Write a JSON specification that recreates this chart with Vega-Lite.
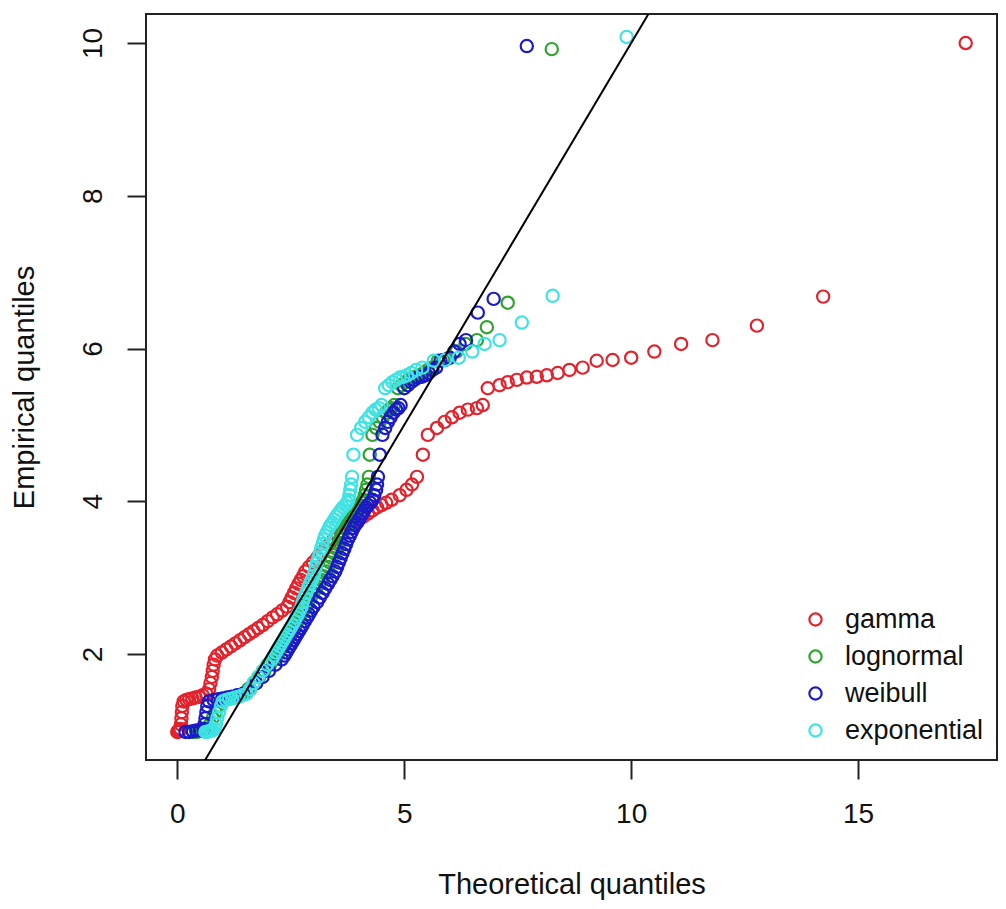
{
"$schema":"https://vega.github.io/schema/vega-lite/v6.json",
"width":851,"height":746,"autosize":"none",
"padding":{"left":146,"top":14,"right":9,"bottom":149},
"background":"white",
"config":{"font":"Liberation Sans","view":{"stroke":"#222","strokeWidth":2}},
"datasets":{
"ref":[{"x":-1,"y":-1},{"x":12,"y":12}],
"pts":[
{"d":"gamma","x":0.00,"y":0.98},{"d":"gamma","x":0.01,"y":0.98},{"d":"gamma","x":0.02,"y":0.99},{"d":"gamma","x":0.03,"y":1.00},{"d":"gamma","x":0.05,"y":1.00},{"d":"gamma","x":0.07,"y":1.02},
{"d":"gamma","x":0.08,"y":1.08},{"d":"gamma","x":0.09,"y":1.16},{"d":"gamma","x":0.10,"y":1.24},{"d":"gamma","x":0.11,"y":1.32},
{"d":"gamma","x":0.14,"y":1.38},{"d":"gamma","x":0.20,"y":1.40},{"d":"gamma","x":0.26,"y":1.41},{"d":"gamma","x":0.33,"y":1.42},{"d":"gamma","x":0.40,"y":1.43},{"d":"gamma","x":0.48,"y":1.44},{"d":"gamma","x":0.56,"y":1.46},{"d":"gamma","x":0.64,"y":1.48},
{"d":"gamma","x":0.70,"y":1.54},{"d":"gamma","x":0.73,"y":1.62},{"d":"gamma","x":0.76,"y":1.70},{"d":"gamma","x":0.78,"y":1.78},{"d":"gamma","x":0.80,"y":1.86},{"d":"gamma","x":0.83,"y":1.93},
{"d":"gamma","x":0.88,"y":1.98},{"d":"gamma","x":0.98,"y":2.02},{"d":"gamma","x":1.08,"y":2.06},{"d":"gamma","x":1.18,"y":2.10},{"d":"gamma","x":1.28,"y":2.14},{"d":"gamma","x":1.38,"y":2.18},{"d":"gamma","x":1.48,"y":2.22},{"d":"gamma","x":1.58,"y":2.26},{"d":"gamma","x":1.68,"y":2.30},{"d":"gamma","x":1.78,"y":2.34},{"d":"gamma","x":1.88,"y":2.38},{"d":"gamma","x":1.99,"y":2.43},{"d":"gamma","x":2.10,"y":2.48},{"d":"gamma","x":2.20,"y":2.52},{"d":"gamma","x":2.31,"y":2.57},{"d":"gamma","x":2.42,"y":2.62},
{"d":"gamma","x":2.47,"y":2.68},{"d":"gamma","x":2.52,"y":2.74},{"d":"gamma","x":2.57,"y":2.80},{"d":"gamma","x":2.62,"y":2.86},{"d":"gamma","x":2.67,"y":2.92},{"d":"gamma","x":2.72,"y":2.97},{"d":"gamma","x":2.77,"y":3.02},{"d":"gamma","x":2.82,"y":3.08},
{"d":"gamma","x":2.90,"y":3.14},{"d":"gamma","x":2.99,"y":3.20},{"d":"gamma","x":3.08,"y":3.26},{"d":"gamma","x":3.17,"y":3.32},{"d":"gamma","x":3.26,"y":3.38},{"d":"gamma","x":3.35,"y":3.44},{"d":"gamma","x":3.44,"y":3.50},{"d":"gamma","x":3.53,"y":3.55},{"d":"gamma","x":3.62,"y":3.60},{"d":"gamma","x":3.71,"y":3.65},
{"d":"gamma","x":3.80,"y":3.69},{"d":"gamma","x":3.90,"y":3.72},{"d":"gamma","x":4.00,"y":3.76},{"d":"gamma","x":4.10,"y":3.80},{"d":"gamma","x":4.20,"y":3.84},{"d":"gamma","x":4.30,"y":3.88},{"d":"gamma","x":4.40,"y":3.92},{"d":"gamma","x":4.50,"y":3.95},{"d":"gamma","x":4.60,"y":3.98},{"d":"gamma","x":4.72,"y":4.02},
{"d":"gamma","x":4.90,"y":4.08},{"d":"gamma","x":5.05,"y":4.15},{"d":"gamma","x":5.17,"y":4.22},{"d":"gamma","x":5.28,"y":4.32},
{"d":"gamma","x":5.41,"y":4.61},{"d":"gamma","x":5.52,"y":4.87},{"d":"gamma","x":5.72,"y":4.96},{"d":"gamma","x":5.89,"y":5.04},{"d":"gamma","x":6.05,"y":5.10},{"d":"gamma","x":6.22,"y":5.16},{"d":"gamma","x":6.40,"y":5.20},{"d":"gamma","x":6.60,"y":5.22},{"d":"gamma","x":6.73,"y":5.26},
{"d":"gamma","x":6.84,"y":5.48},{"d":"gamma","x":7.10,"y":5.52},{"d":"gamma","x":7.28,"y":5.56},{"d":"gamma","x":7.48,"y":5.59},{"d":"gamma","x":7.70,"y":5.62},{"d":"gamma","x":7.92,"y":5.63},{"d":"gamma","x":8.14,"y":5.65},{"d":"gamma","x":8.38,"y":5.68},{"d":"gamma","x":8.64,"y":5.72},{"d":"gamma","x":8.93,"y":5.75},
{"d":"gamma","x":9.24,"y":5.84},{"d":"gamma","x":9.59,"y":5.85},{"d":"gamma","x":10.00,"y":5.88},{"d":"gamma","x":10.51,"y":5.96},{"d":"gamma","x":11.10,"y":6.06},{"d":"gamma","x":11.79,"y":6.11},
{"d":"gamma","x":12.77,"y":6.30},{"d":"gamma","x":14.23,"y":6.68},{"d":"gamma","x":17.37,"y":10.0},

{"d":"lognormal","x":0.35,"y":0.98},{"d":"lognormal","x":0.42,"y":0.98},{"d":"lognormal","x":0.48,"y":0.99},{"d":"lognormal","x":0.54,"y":1.00},{"d":"lognormal","x":0.60,"y":1.00},{"d":"lognormal","x":0.66,"y":1.02},
{"d":"lognormal","x":0.72,"y":1.08},{"d":"lognormal","x":0.78,"y":1.16},{"d":"lognormal","x":0.84,"y":1.24},{"d":"lognormal","x":0.90,"y":1.32},
{"d":"lognormal","x":0.95,"y":1.38},{"d":"lognormal","x":1.02,"y":1.40},{"d":"lognormal","x":1.09,"y":1.41},{"d":"lognormal","x":1.16,"y":1.42},{"d":"lognormal","x":1.23,"y":1.43},{"d":"lognormal","x":1.30,"y":1.44},{"d":"lognormal","x":1.38,"y":1.46},{"d":"lognormal","x":1.46,"y":1.48},
{"d":"lognormal","x":1.56,"y":1.54},{"d":"lognormal","x":1.68,"y":1.62},{"d":"lognormal","x":1.80,"y":1.70},{"d":"lognormal","x":1.92,"y":1.78},{"d":"lognormal","x":2.04,"y":1.86},{"d":"lognormal","x":2.14,"y":1.93},
{"d":"lognormal","x":2.20,"y":1.98},{"d":"lognormal","x":2.24,"y":2.02},{"d":"lognormal","x":2.28,"y":2.06},{"d":"lognormal","x":2.32,"y":2.10},{"d":"lognormal","x":2.36,"y":2.14},{"d":"lognormal","x":2.40,"y":2.18},{"d":"lognormal","x":2.44,"y":2.22},{"d":"lognormal","x":2.48,"y":2.26},{"d":"lognormal","x":2.52,"y":2.30},{"d":"lognormal","x":2.56,"y":2.34},{"d":"lognormal","x":2.60,"y":2.38},{"d":"lognormal","x":2.65,"y":2.43},{"d":"lognormal","x":2.70,"y":2.48},{"d":"lognormal","x":2.74,"y":2.52},{"d":"lognormal","x":2.79,"y":2.57},{"d":"lognormal","x":2.84,"y":2.62},
{"d":"lognormal","x":2.88,"y":2.68},{"d":"lognormal","x":2.94,"y":2.74},{"d":"lognormal","x":3.00,"y":2.80},{"d":"lognormal","x":3.06,"y":2.86},{"d":"lognormal","x":3.12,"y":2.92},{"d":"lognormal","x":3.17,"y":2.97},{"d":"lognormal","x":3.22,"y":3.02},{"d":"lognormal","x":3.28,"y":3.08},
{"d":"lognormal","x":3.32,"y":3.14},{"d":"lognormal","x":3.36,"y":3.20},{"d":"lognormal","x":3.40,"y":3.26},{"d":"lognormal","x":3.45,"y":3.32},{"d":"lognormal","x":3.50,"y":3.38},{"d":"lognormal","x":3.54,"y":3.44},{"d":"lognormal","x":3.58,"y":3.50},{"d":"lognormal","x":3.62,"y":3.55},{"d":"lognormal","x":3.66,"y":3.60},{"d":"lognormal","x":3.70,"y":3.65},
{"d":"lognormal","x":3.74,"y":3.69},{"d":"lognormal","x":3.78,"y":3.72},{"d":"lognormal","x":3.82,"y":3.76},{"d":"lognormal","x":3.86,"y":3.80},{"d":"lognormal","x":3.90,"y":3.84},{"d":"lognormal","x":3.94,"y":3.88},{"d":"lognormal","x":3.98,"y":3.92},{"d":"lognormal","x":4.02,"y":3.95},{"d":"lognormal","x":4.06,"y":3.98},{"d":"lognormal","x":4.10,"y":4.02},
{"d":"lognormal","x":4.13,"y":4.08},{"d":"lognormal","x":4.16,"y":4.15},{"d":"lognormal","x":4.19,"y":4.22},{"d":"lognormal","x":4.22,"y":4.32},
{"d":"lognormal","x":4.24,"y":4.61},{"d":"lognormal","x":4.30,"y":4.87},{"d":"lognormal","x":4.38,"y":4.96},{"d":"lognormal","x":4.46,"y":5.04},{"d":"lognormal","x":4.53,"y":5.10},{"d":"lognormal","x":4.60,"y":5.16},{"d":"lognormal","x":4.66,"y":5.20},{"d":"lognormal","x":4.72,"y":5.22},{"d":"lognormal","x":4.78,"y":5.26},
{"d":"lognormal","x":4.86,"y":5.48},{"d":"lognormal","x":4.94,"y":5.52},{"d":"lognormal","x":5.02,"y":5.56},{"d":"lognormal","x":5.10,"y":5.59},{"d":"lognormal","x":5.18,"y":5.62},{"d":"lognormal","x":5.26,"y":5.63},{"d":"lognormal","x":5.34,"y":5.65},{"d":"lognormal","x":5.42,"y":5.68},{"d":"lognormal","x":5.52,"y":5.72},{"d":"lognormal","x":5.62,"y":5.75},
{"d":"lognormal","x":5.74,"y":5.84},{"d":"lognormal","x":5.86,"y":5.85},{"d":"lognormal","x":6.00,"y":5.88},{"d":"lognormal","x":6.15,"y":5.96},{"d":"lognormal","x":6.35,"y":6.06},{"d":"lognormal","x":6.60,"y":6.11},
{"d":"lognormal","x":6.82,"y":6.28},{"d":"lognormal","x":7.28,"y":6.60},{"d":"lognormal","x":8.25,"y":9.92},

{"d":"weibull","x":0.18,"y":0.98},{"d":"weibull","x":0.26,"y":0.98},{"d":"weibull","x":0.34,"y":0.99},{"d":"weibull","x":0.42,"y":1.00},{"d":"weibull","x":0.50,"y":1.00},{"d":"weibull","x":0.58,"y":1.02},
{"d":"weibull","x":0.60,"y":1.08},{"d":"weibull","x":0.62,"y":1.16},{"d":"weibull","x":0.64,"y":1.24},{"d":"weibull","x":0.66,"y":1.32},
{"d":"weibull","x":0.70,"y":1.38},{"d":"weibull","x":0.80,"y":1.40},{"d":"weibull","x":0.90,"y":1.41},{"d":"weibull","x":1.00,"y":1.42},{"d":"weibull","x":1.10,"y":1.43},{"d":"weibull","x":1.20,"y":1.44},{"d":"weibull","x":1.32,"y":1.46},{"d":"weibull","x":1.45,"y":1.48},
{"d":"weibull","x":1.60,"y":1.54},{"d":"weibull","x":1.74,"y":1.62},{"d":"weibull","x":1.88,"y":1.70},{"d":"weibull","x":2.02,"y":1.78},{"d":"weibull","x":2.16,"y":1.86},{"d":"weibull","x":2.30,"y":1.93},
{"d":"weibull","x":2.36,"y":1.98},{"d":"weibull","x":2.40,"y":2.02},{"d":"weibull","x":2.44,"y":2.06},{"d":"weibull","x":2.48,"y":2.10},{"d":"weibull","x":2.52,"y":2.14},{"d":"weibull","x":2.56,"y":2.18},{"d":"weibull","x":2.60,"y":2.22},{"d":"weibull","x":2.64,"y":2.26},{"d":"weibull","x":2.68,"y":2.30},{"d":"weibull","x":2.72,"y":2.34},{"d":"weibull","x":2.76,"y":2.38},{"d":"weibull","x":2.81,"y":2.43},{"d":"weibull","x":2.86,"y":2.48},{"d":"weibull","x":2.90,"y":2.52},{"d":"weibull","x":2.95,"y":2.57},{"d":"weibull","x":3.00,"y":2.62},
{"d":"weibull","x":3.08,"y":2.68},{"d":"weibull","x":3.14,"y":2.74},{"d":"weibull","x":3.20,"y":2.80},{"d":"weibull","x":3.26,"y":2.86},{"d":"weibull","x":3.32,"y":2.92},{"d":"weibull","x":3.37,"y":2.97},{"d":"weibull","x":3.42,"y":3.02},{"d":"weibull","x":3.48,"y":3.08},
{"d":"weibull","x":3.52,"y":3.14},{"d":"weibull","x":3.56,"y":3.20},{"d":"weibull","x":3.60,"y":3.26},{"d":"weibull","x":3.64,"y":3.32},{"d":"weibull","x":3.68,"y":3.38},{"d":"weibull","x":3.72,"y":3.44},{"d":"weibull","x":3.76,"y":3.50},{"d":"weibull","x":3.80,"y":3.55},{"d":"weibull","x":3.84,"y":3.60},{"d":"weibull","x":3.88,"y":3.65},
{"d":"weibull","x":3.92,"y":3.69},{"d":"weibull","x":3.96,"y":3.72},{"d":"weibull","x":4.00,"y":3.76},{"d":"weibull","x":4.04,"y":3.80},{"d":"weibull","x":4.08,"y":3.84},{"d":"weibull","x":4.12,"y":3.88},{"d":"weibull","x":4.16,"y":3.92},{"d":"weibull","x":4.20,"y":3.95},{"d":"weibull","x":4.25,"y":3.98},{"d":"weibull","x":4.30,"y":4.02},
{"d":"weibull","x":4.34,"y":4.08},{"d":"weibull","x":4.38,"y":4.15},{"d":"weibull","x":4.40,"y":4.22},{"d":"weibull","x":4.42,"y":4.32},
{"d":"weibull","x":4.46,"y":4.61},{"d":"weibull","x":4.52,"y":4.87},{"d":"weibull","x":4.58,"y":4.96},{"d":"weibull","x":4.64,"y":5.04},{"d":"weibull","x":4.70,"y":5.10},{"d":"weibull","x":4.76,"y":5.16},{"d":"weibull","x":4.82,"y":5.20},{"d":"weibull","x":4.87,"y":5.22},{"d":"weibull","x":4.92,"y":5.26},
{"d":"weibull","x":5.00,"y":5.48},{"d":"weibull","x":5.08,"y":5.52},{"d":"weibull","x":5.15,"y":5.56},{"d":"weibull","x":5.22,"y":5.59},{"d":"weibull","x":5.30,"y":5.62},{"d":"weibull","x":5.38,"y":5.63},{"d":"weibull","x":5.46,"y":5.65},{"d":"weibull","x":5.54,"y":5.68},{"d":"weibull","x":5.62,"y":5.72},{"d":"weibull","x":5.70,"y":5.75},
{"d":"weibull","x":5.80,"y":5.84},{"d":"weibull","x":5.90,"y":5.85},{"d":"weibull","x":6.00,"y":5.88},{"d":"weibull","x":6.10,"y":5.96},{"d":"weibull","x":6.22,"y":6.06},{"d":"weibull","x":6.36,"y":6.11},
{"d":"weibull","x":6.62,"y":6.47},{"d":"weibull","x":6.97,"y":6.65},{"d":"weibull","x":7.70,"y":9.96},

{"d":"exponential","x":0.62,"y":0.98},{"d":"exponential","x":0.66,"y":0.98},{"d":"exponential","x":0.70,"y":0.99},{"d":"exponential","x":0.74,"y":1.00},{"d":"exponential","x":0.78,"y":1.00},{"d":"exponential","x":0.82,"y":1.02},
{"d":"exponential","x":0.85,"y":1.08},{"d":"exponential","x":0.88,"y":1.16},{"d":"exponential","x":0.92,"y":1.24},{"d":"exponential","x":0.96,"y":1.32},
{"d":"exponential","x":1.00,"y":1.38},{"d":"exponential","x":1.07,"y":1.40},{"d":"exponential","x":1.14,"y":1.41},{"d":"exponential","x":1.21,"y":1.42},{"d":"exponential","x":1.28,"y":1.43},{"d":"exponential","x":1.35,"y":1.44},{"d":"exponential","x":1.43,"y":1.46},{"d":"exponential","x":1.52,"y":1.48},
{"d":"exponential","x":1.60,"y":1.54},{"d":"exponential","x":1.68,"y":1.62},{"d":"exponential","x":1.78,"y":1.70},{"d":"exponential","x":1.88,"y":1.78},{"d":"exponential","x":1.98,"y":1.86},{"d":"exponential","x":2.08,"y":1.93},
{"d":"exponential","x":2.13,"y":1.98},{"d":"exponential","x":2.17,"y":2.02},{"d":"exponential","x":2.21,"y":2.06},{"d":"exponential","x":2.25,"y":2.10},{"d":"exponential","x":2.29,"y":2.14},{"d":"exponential","x":2.33,"y":2.18},{"d":"exponential","x":2.37,"y":2.22},{"d":"exponential","x":2.41,"y":2.26},{"d":"exponential","x":2.45,"y":2.30},{"d":"exponential","x":2.49,"y":2.34},{"d":"exponential","x":2.53,"y":2.38},{"d":"exponential","x":2.58,"y":2.43},{"d":"exponential","x":2.62,"y":2.48},{"d":"exponential","x":2.66,"y":2.52},{"d":"exponential","x":2.70,"y":2.57},{"d":"exponential","x":2.74,"y":2.62},
{"d":"exponential","x":2.76,"y":2.68},{"d":"exponential","x":2.80,"y":2.74},{"d":"exponential","x":2.84,"y":2.80},{"d":"exponential","x":2.88,"y":2.86},{"d":"exponential","x":2.92,"y":2.92},{"d":"exponential","x":2.96,"y":2.97},{"d":"exponential","x":3.00,"y":3.02},{"d":"exponential","x":3.03,"y":3.08},
{"d":"exponential","x":3.05,"y":3.14},{"d":"exponential","x":3.08,"y":3.20},{"d":"exponential","x":3.11,"y":3.26},{"d":"exponential","x":3.14,"y":3.32},{"d":"exponential","x":3.17,"y":3.38},{"d":"exponential","x":3.20,"y":3.44},{"d":"exponential","x":3.23,"y":3.50},{"d":"exponential","x":3.26,"y":3.55},{"d":"exponential","x":3.30,"y":3.60},{"d":"exponential","x":3.34,"y":3.65},
{"d":"exponential","x":3.38,"y":3.69},{"d":"exponential","x":3.42,"y":3.72},{"d":"exponential","x":3.46,"y":3.76},{"d":"exponential","x":3.50,"y":3.80},{"d":"exponential","x":3.55,"y":3.84},{"d":"exponential","x":3.60,"y":3.88},{"d":"exponential","x":3.65,"y":3.92},{"d":"exponential","x":3.70,"y":3.95},{"d":"exponential","x":3.74,"y":3.98},{"d":"exponential","x":3.77,"y":4.02},
{"d":"exponential","x":3.79,"y":4.08},{"d":"exponential","x":3.81,"y":4.15},{"d":"exponential","x":3.83,"y":4.22},{"d":"exponential","x":3.85,"y":4.32},
{"d":"exponential","x":3.88,"y":4.61},{"d":"exponential","x":3.96,"y":4.87},{"d":"exponential","x":4.05,"y":4.96},{"d":"exponential","x":4.14,"y":5.04},{"d":"exponential","x":4.22,"y":5.10},{"d":"exponential","x":4.30,"y":5.16},{"d":"exponential","x":4.37,"y":5.20},{"d":"exponential","x":4.44,"y":5.22},{"d":"exponential","x":4.50,"y":5.26},
{"d":"exponential","x":4.58,"y":5.48},{"d":"exponential","x":4.66,"y":5.52},{"d":"exponential","x":4.74,"y":5.56},{"d":"exponential","x":4.82,"y":5.59},{"d":"exponential","x":4.90,"y":5.62},{"d":"exponential","x":4.98,"y":5.63},{"d":"exponential","x":5.06,"y":5.65},{"d":"exponential","x":5.15,"y":5.68},{"d":"exponential","x":5.26,"y":5.72},{"d":"exponential","x":5.40,"y":5.75},
{"d":"exponential","x":5.65,"y":5.84},{"d":"exponential","x":5.90,"y":5.85},{"d":"exponential","x":6.20,"y":5.88},{"d":"exponential","x":6.50,"y":5.96},{"d":"exponential","x":6.77,"y":6.06},{"d":"exponential","x":7.10,"y":6.11},
{"d":"exponential","x":7.59,"y":6.34},{"d":"exponential","x":8.27,"y":6.69},{"d":"exponential","x":9.90,"y":10.08}
]},
"layer":[
{"data":{"name":"pts"},
 "mark":{"type":"point","shape":"circle","filled":false,"size":150,"strokeWidth":2.2,"opacity":1,"clip":true},
 "encoding":{
  "x":{"field":"x","type":"quantitative","scale":{"domain":[-0.69,18.06],"nice":false,"zero":false},
   "axis":{"title":"Theoretical quantiles","values":[0,5,10,15],"format":"d","domain":false,"grid":false,"tickSize":19,"tickWidth":2,"tickColor":"#222","labelFontSize":28,"labelPadding":21,"labelColor":"#111","titleFontSize":29,"titleFontWeight":"normal","titleColor":"#111","titlePadding":42}},
  "y":{"field":"y","type":"quantitative","scale":{"domain":[0.613,10.38],"nice":false,"zero":false},
   "axis":{"title":"Empirical quantiles","values":[2,4,6,8,10],"format":"d","domain":false,"grid":false,"tickSize":19,"tickWidth":2,"tickColor":"#222","labelFontSize":28,"labelAngle":-90,"labelAlign":"center","labelBaseline":"bottom","labelPadding":20,"labelColor":"#111","titleFontSize":29,"titleFontWeight":"normal","titleColor":"#111","titlePadding":40}},
  "color":{"field":"d","type":"nominal","sort":null,
   "scale":{"domain":["gamma","lognormal","weibull","exponential"],"range":["#e3222c","#2fa52f","#1a1acb","#3fe3e3"]},
   "legend":{"orient":"none","legendX":656,"legendY":592,"title":null,"padding":0,"labelFontSize":27,"labelColor":"#111","labelOffset":16,"rowPadding":9,"symbolSize":150,"symbolStrokeWidth":2.2,"symbolType":"circle"}}
 }},
{"data":{"name":"ref"},
 "mark":{"type":"line","color":"black","strokeWidth":2,"clip":true},
 "encoding":{"x":{"field":"x","type":"quantitative"},"y":{"field":"y","type":"quantitative"}}}
]
}
